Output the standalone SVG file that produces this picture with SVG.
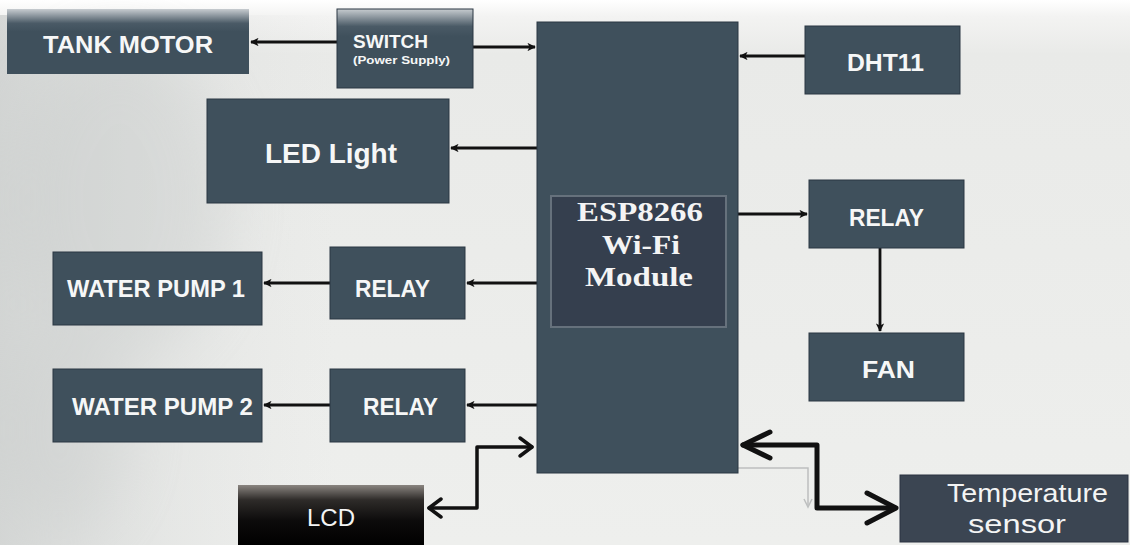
<svg xmlns="http://www.w3.org/2000/svg" width="1130" height="545" viewBox="0 0 1130 545">
<defs>
<linearGradient id="bg" x1="0" y1="0" x2="0" y2="1">
<stop offset="0" stop-color="#ffffff"/>
<stop offset="0.03" stop-color="#f3f3f2"/>
<stop offset="0.1" stop-color="#e9eae8"/>
<stop offset="1" stop-color="#eeefed"/>
</linearGradient>
<linearGradient id="bgl" x1="0" y1="0" x2="1" y2="0">
<stop offset="0" stop-color="#c9cccb" stop-opacity="0.7"/>
<stop offset="0.3" stop-color="#d6d8d7" stop-opacity="0.35"/>
<stop offset="0.6" stop-color="#e0e1e0" stop-opacity="0"/>
</linearGradient>
<linearGradient id="topfade" x1="0" y1="0" x2="0" y2="1">
<stop offset="0" stop-color="#c7ccd0"/>
<stop offset="0.22" stop-color="#4a5a66"/>
<stop offset="0.35" stop-color="#3f505c"/>
<stop offset="1" stop-color="#3f505c"/>
</linearGradient>
<linearGradient id="lcdg" x1="0" y1="0" x2="0" y2="1">
<stop offset="0" stop-color="#8a8580"/>
<stop offset="0.25" stop-color="#2e2b29"/>
<stop offset="0.6" stop-color="#0c0b0b"/>
<stop offset="1" stop-color="#000000"/>
</linearGradient>
<filter id="blur" x="-50%" y="-50%" width="200%" height="200%">
<feGaussianBlur stdDeviation="30"/>
</filter>
<marker id="ah" viewBox="0 0 10 10" refX="9" refY="5" markerWidth="3" markerHeight="3" orient="auto" markerUnits="strokeWidth">
<path d="M0,0 L10,5 L0,10 L2.5,5 Z" fill="#111"/>
</marker>
<style>
.box{fill:#3f505c;stroke:#2b3742;stroke-width:1}
.lbl{fill:#f6f7f7;font-family:"Liberation Sans",Arial,sans-serif;font-weight:bold;text-anchor:middle}
.reg{fill:#f3f4f4;font-family:"Liberation Sans",Arial,sans-serif;text-anchor:middle}
.esp{fill:#f4f4f4;font-family:"Liberation Serif","Times New Roman",serif;font-weight:bold;font-size:27px;text-anchor:middle}
.ln{stroke:#111;stroke-width:2.8;fill:none}
.big{stroke:#111;fill:none;stroke-linecap:round;stroke-linejoin:round}
</style>
</defs>
<rect width="1130" height="545" fill="url(#bg)"/>
<rect x="0" y="15" width="560" height="530" fill="url(#bgl)"/>
<g filter="url(#blur)" opacity="0.35">
<ellipse cx="120" cy="200" rx="110" ry="160" fill="#c4c8c7"/>
<ellipse cx="60" cy="430" rx="70" ry="110" fill="#c8cbca"/>
</g>

<g id="connectors">
<line class="ln" x1="337" y1="42" x2="251" y2="42" marker-end="url(#ah)"/>
<line class="ln" x1="473" y1="47" x2="535" y2="47" marker-end="url(#ah)"/>
<line class="ln" x1="537" y1="148" x2="451" y2="148" marker-end="url(#ah)"/>
<line class="ln" x1="805" y1="56" x2="740" y2="56" marker-end="url(#ah)"/>
<line class="ln" x1="738" y1="214" x2="807" y2="214" marker-end="url(#ah)"/>
<line class="ln" x1="880" y1="248" x2="880" y2="331" marker-end="url(#ah)" stroke-width="2.2"/>
<line class="ln" x1="537" y1="283" x2="467" y2="283" marker-end="url(#ah)"/>
<line class="ln" x1="330" y1="283" x2="264" y2="283" marker-end="url(#ah)"/>
<line class="ln" x1="537" y1="405" x2="467" y2="405" marker-end="url(#ah)"/>
<line class="ln" x1="330" y1="405" x2="264" y2="405" marker-end="url(#ah)"/>
<polyline points="738,468 808,468 808,505" fill="none" stroke="#bdbfbf" stroke-width="1.5"/>
<path d="M804,499 L808,507 L812,499" fill="none" stroke="#bdbfbf" stroke-width="1.5"/>
<polyline class="big" stroke-width="3.5" points="429,508 477,508 477,447 532,447"/>
<path class="big" stroke-width="3.5" d="M441,499 L429,508 L441,517"/>
<path class="big" stroke-width="3.5" d="M520,438 L532,447 L520,456"/>
<polyline class="big" stroke-width="5" points="743,445 817,445 817,508 895,508"/>
<path class="big" stroke-width="5" d="M770,432 L743,445 L770,458"/>
<path class="big" stroke-width="5" d="M867,493 L896,508 L867,523"/>
</g>

<g id="esp">
<rect class="box" x="537" y="22" width="201" height="451"/>
<rect x="551" y="196" width="175" height="131" fill="#353f4e" stroke="#66717c" stroke-width="2"/>
<text class="esp" x="640" y="221" textLength="126" lengthAdjust="spacingAndGlyphs">ESP8266</text>
<text class="esp" x="641" y="254" textLength="78" lengthAdjust="spacingAndGlyphs">Wi-Fi</text>
<text class="esp" x="639" y="286" textLength="108" lengthAdjust="spacingAndGlyphs">Module</text>
</g>

<g id="tank-motor">
<rect x="7" y="9" width="242" height="65" fill="url(#topfade)"/>
<text class="lbl" x="128" y="53" font-size="24" textLength="170" lengthAdjust="spacingAndGlyphs">TANK MOTOR</text>
</g>

<g id="switch">
<rect x="337" y="9" width="136" height="79" fill="url(#topfade)" stroke="#2b3742" stroke-width="1"/>
<text class="lbl" x="390.5" y="48" font-size="18" textLength="75" lengthAdjust="spacingAndGlyphs">SWITCH</text>
<text class="lbl" x="401.5" y="64" font-size="10.5" textLength="97" lengthAdjust="spacingAndGlyphs">(Power Supply)</text>
</g>

<g id="led-light">
<rect class="box" x="207" y="99" width="242" height="104"/>
<text class="lbl" x="331" y="163" font-size="28" textLength="132" lengthAdjust="spacingAndGlyphs">LED Light</text>
</g>

<g id="dht11">
<rect class="box" x="805" y="26" width="155" height="68"/>
<text class="lbl" x="885.5" y="71" font-size="24" textLength="77" lengthAdjust="spacingAndGlyphs">DHT11</text>
</g>

<g id="relay-fan">
<rect class="box" x="809" y="180" width="155" height="68"/>
<text class="lbl" x="886.5" y="226" font-size="24" textLength="75" lengthAdjust="spacingAndGlyphs">RELAY</text>
</g>

<g id="fan">
<rect class="box" x="809" y="333" width="155" height="68"/>
<text class="lbl" x="888.5" y="378" font-size="24" textLength="53" lengthAdjust="spacingAndGlyphs">FAN</text>
</g>

<g id="water-pump-1">
<rect class="box" x="53" y="252" width="209" height="73"/>
<text class="lbl" x="156" y="297" font-size="23" textLength="178" lengthAdjust="spacingAndGlyphs">WATER PUMP 1</text>
</g>

<g id="relay-1">
<rect class="box" x="330" y="247" width="135" height="72"/>
<text class="lbl" x="392.5" y="297" font-size="23" textLength="75" lengthAdjust="spacingAndGlyphs">RELAY</text>
</g>

<g id="water-pump-2">
<rect class="box" x="53" y="369" width="209" height="73"/>
<text class="lbl" x="162.5" y="415" font-size="23" textLength="181" lengthAdjust="spacingAndGlyphs">WATER PUMP 2</text>
</g>

<g id="relay-2">
<rect class="box" x="330" y="369" width="135" height="73"/>
<text class="lbl" x="400.5" y="415" font-size="23" textLength="75" lengthAdjust="spacingAndGlyphs">RELAY</text>
</g>

<g id="lcd">
<rect x="238" y="485" width="186" height="60" fill="url(#lcdg)"/>
<text class="reg" x="331" y="526" font-size="24">LCD</text>
</g>

<g id="temperature-sensor">
<rect x="900" y="475" width="228" height="67" fill="#3b4552" stroke="#2b3340" stroke-width="1"/>
<text class="reg" x="1027.5" y="502" font-size="26" textLength="161" lengthAdjust="spacingAndGlyphs">Temperature</text>
<text class="reg" x="1017" y="533" font-size="26" textLength="98" lengthAdjust="spacingAndGlyphs">sensor</text>
</g>
</svg>
